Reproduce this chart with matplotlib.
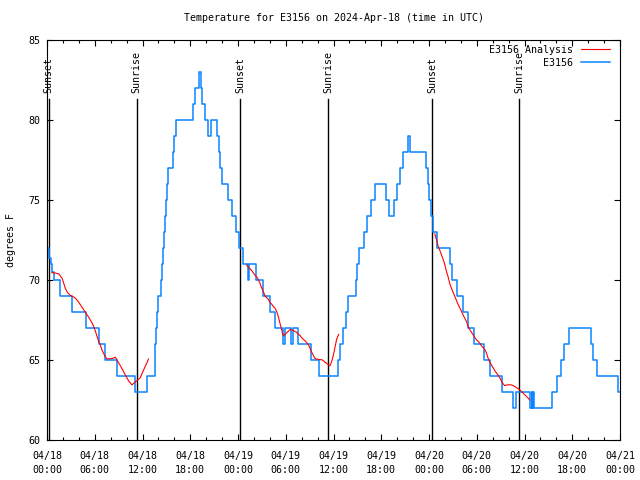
import matplotlib
matplotlib.use("Agg")
import matplotlib.pyplot as plt
from matplotlib.ticker import MultipleLocator, FixedLocator

# ---- data (hours since 04/18 00:00 UTC) ----
blue_t = [0.0, 0.2, 0.45, 0.65, 0.85, 1.65, 3.1, 4.85, 6.55, 7.35, 8.85, 11.12, 12.55,
          13.52, 13.62, 13.72, 13.85, 14.0, 14.3, 14.42, 14.55, 14.68, 14.8, 14.92, 15.05, 15.2,
          15.78, 15.98, 16.2, 18.35, 18.55, 19.1, 19.3, 19.45, 19.85, 20.2, 20.55, 21.35, 21.55,
          21.75, 22.0, 22.7, 23.3, 23.8, 24.1, 24.65, 25.25, 25.4, 26.2, 27.15, 28.0, 28.6, 29.6,
          29.85, 30.65, 30.9, 31.5, 33.2, 34.15, 36.55, 36.85, 37.25, 37.55, 37.85, 38.8, 39.0,
          39.25, 39.85, 40.15, 40.7, 41.2, 42.6, 42.95, 43.55, 43.95, 44.3, 44.7, 45.35, 45.6,
          47.65, 47.85, 48.05, 48.25, 48.45, 49.0, 50.6, 50.95, 51.55, 52.3, 52.85, 53.65, 54.95,
          55.65, 57.2, 58.55, 58.9, 60.65, 60.92, 61.0, 61.1, 61.2, 63.45, 64.1, 64.6, 65.0, 65.6,
          68.3, 68.6, 69.1, 71.75, 72.0]
blue_v = [72, 71.4, 71, 70.5, 70, 69, 68, 67, 66, 65, 64, 63, 64,
          65, 66, 67, 68, 69, 70, 71, 72, 73, 74, 75, 76, 77,
          78, 79, 80, 81, 82, 83, 82, 81, 80, 79, 80, 79, 78,
          77, 76, 75, 74, 73, 72, 71, 70, 71, 70, 69, 68, 67, 66,
          67, 66, 67, 66, 65, 64, 65, 66, 67, 68, 69, 70, 71,
          72, 73, 74, 75, 76, 75, 74, 75, 76, 77, 78, 79, 78,
          77, 76, 75, 74, 73, 72, 71, 70, 69, 68, 67, 66, 65,
          64, 63, 62, 63, 62, 63, 62, 63, 62, 63, 64, 65, 66, 67,
          66, 65, 64, 63, 63]

red1_t = [0.63, 1.0, 1.5, 1.9, 2.1, 2.3, 2.6, 2.9, 3.3, 3.6, 4.0, 4.4, 4.8, 5.2, 5.65, 5.9,
          6.1, 6.3, 6.5, 6.7, 6.9, 7.1, 7.33, 7.55, 7.9, 8.2, 8.6, 9.0, 9.4, 9.84, 10.26,
          10.68, 10.97, 11.3, 11.73, 12.14, 12.56, 12.75]
red1_v = [70.46, 70.44, 70.38, 70.1, 69.8, 69.48, 69.2, 69.05, 68.95, 68.85, 68.6, 68.3,
          68.0, 67.7, 67.33, 67.05, 66.77, 66.46, 66.15, 65.94, 65.63, 65.42, 65.21, 65.06,
          65.08, 65.1, 65.17, 64.83, 64.48, 64.06, 63.69, 63.44, 63.58, 63.71, 63.9, 64.38,
          64.83, 65.06]
red2_t = [25.08, 25.3, 25.5, 25.71, 25.92, 26.13, 26.34, 26.55, 26.76, 26.97, 27.18, 27.39,
          27.6, 27.8, 28.01, 28.22, 28.43, 28.64, 28.85, 29.06, 29.27, 29.48, 29.69, 29.9,
          30.11, 30.32, 30.53, 30.74, 30.95, 31.15, 31.36, 31.57, 31.78, 31.99, 32.2, 32.41,
          32.62, 32.83, 33.04, 33.25, 33.46, 33.67, 33.88, 34.3, 34.51, 34.72, 34.93, 35.14,
          35.35, 35.56, 35.77, 35.98, 36.19, 36.4, 36.65]
red2_v = [70.94, 70.8, 70.7, 70.6, 70.45, 70.3, 70.2, 70.02, 69.8, 69.5, 69.3, 69.0,
          68.9, 68.8, 68.6, 68.5, 68.35, 68.25, 68.04, 67.73, 67.3, 66.9, 66.5, 66.6,
          66.7, 66.79, 66.9, 66.9, 66.83, 66.79, 66.73, 66.6, 66.54, 66.4, 66.3, 66.2,
          66.1, 65.96, 65.75, 65.5, 65.3, 65.1, 65.06, 65.02, 65.02, 64.96, 64.85, 64.8,
          64.7, 64.65, 64.9, 65.3, 65.8, 66.3, 66.6]
red3_t = [48.74, 48.95, 49.17, 49.38, 49.58, 49.8, 50.0, 50.2, 50.4, 50.6, 50.8, 51.05,
          51.26, 51.47, 51.68, 51.9, 52.1, 52.3, 52.5, 52.72, 52.93, 53.14, 53.35, 53.56,
          53.77, 53.98, 54.2, 54.4, 54.6, 54.99, 55.2, 55.4, 55.6, 55.8, 56.04, 56.25,
          56.46, 56.67, 56.88, 57.09, 57.3, 57.5, 57.7, 57.9, 58.3, 58.58, 58.92, 59.13,
          59.35, 59.56, 59.77, 59.98, 60.2, 60.4, 60.65]
red3_v = [72.88, 72.5, 72.08, 71.83, 71.56, 71.25, 70.94, 70.52, 70.2, 69.8, 69.5, 69.2,
          68.96, 68.7, 68.44, 68.23, 68.02, 67.8, 67.6, 67.4, 67.08, 66.88, 66.73, 66.56,
          66.4, 66.25, 66.15, 66.04, 65.88, 65.67, 65.46, 65.15, 64.9, 64.73, 64.52, 64.35,
          64.2, 64.06, 63.9, 63.7, 63.52, 63.4, 63.42, 63.45, 63.45, 63.4, 63.3, 63.23,
          63.15, 63.06, 62.96, 62.85, 62.75, 62.65, 62.5]

sun_t = [0.2, 11.27, 24.3, 35.35, 48.4, 59.3]
sun_lbl = ["Sunset", "Sunrise", "Sunset", "Sunrise", "Sunset", "Sunrise"]

xtick_pos = list(range(0, 73, 6))
xtick_lbl = ["04/18\n00:00", "04/18\n06:00", "04/18\n12:00", "04/18\n18:00",
             "04/19\n00:00", "04/19\n06:00", "04/19\n12:00", "04/19\n18:00",
             "04/20\n00:00", "04/20\n06:00", "04/20\n12:00", "04/20\n18:00",
             "04/21\n00:00"]

FONT = "DejaVu Sans Mono"
FS = 7.2
plt.rcParams["font.family"] = FONT
plt.rcParams["font.size"] = FS

fig = plt.figure(figsize=(6.4, 4.8), dpi=100)
ax = fig.add_axes([47/640, 40/480, 573/640, 400/480])

red_c = "#ff0000"
blue_c = "#0a84ff"
ax.plot(red1_t, red1_v, color=red_c, lw=0.8, label="E3156 Analysis", zorder=3)
ax.plot(red2_t, red2_v, color=red_c, lw=0.8, zorder=3)
ax.plot(red3_t, red3_v, color=red_c, lw=0.8, zorder=3)
ax.step(blue_t, blue_v, where="post", color=blue_c, lw=1.1, label="E3156", zorder=2)

trans = ax.get_xaxis_transform()
for t, s in zip(sun_t, sun_lbl):
    ax.axvline(t, ymin=0, ymax=0.8525, color="black", lw=1.0, zorder=1)
    ax.text(t, 0.868, s, transform=trans, rotation=90, ha="center", va="bottom",
            fontsize=FS)

ax.set_xlim(0, 72)
ax.set_ylim(60, 85)
ax.xaxis.set_major_locator(FixedLocator(xtick_pos))
ax.set_xticklabels(xtick_lbl)
ax.xaxis.set_minor_locator(MultipleLocator(2))
ax.yaxis.set_major_locator(MultipleLocator(5))
ax.tick_params(axis="both", which="major", direction="in", length=4.5, width=0.8,
               top=True, right=True, labelsize=FS)
ax.tick_params(axis="x", which="minor", direction="in", length=2.2, width=0.8,
               top=True, bottom=True)
ax.tick_params(axis="x", which="major", pad=8)
ax.tick_params(axis="y", which="major", pad=5)
for lab in ax.get_xticklabels():
    lab.set_linespacing(1.45)
for sp in ax.spines.values():
    sp.set_linewidth(0.8)

ax.set_ylabel("degrees F", fontsize=FS, labelpad=9)
ax.set_title("Temperature for E3156 on 2024-Apr-18 (time in UTC)", fontsize=FS, pad=14)

leg = ax.legend(loc="upper right", bbox_to_anchor=(0.991, 1.0), frameon=False,
                markerfirst=False, fontsize=FS,
                handlelength=2.9, handletextpad=0.8, labelspacing=0.3,
                borderaxespad=0.1, borderpad=0.4)

fig.savefig("out.png", dpi=100)
